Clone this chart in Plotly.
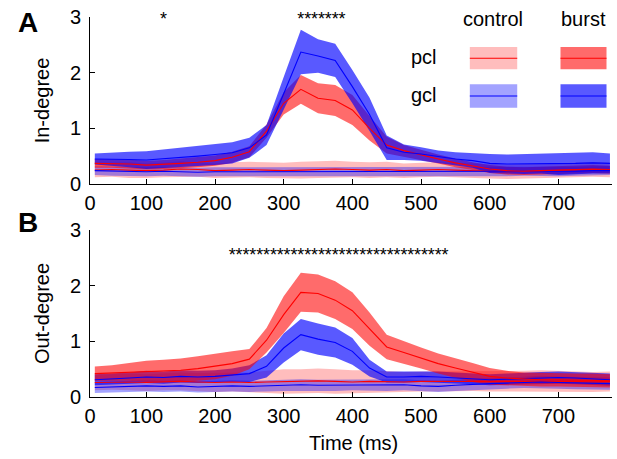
import plotly.graph_objects as go
from plotly.subplots import make_subplots

# ---------------- data ----------------
time_ms = [25, 50, 75, 100, 125, 150, 175, 200, 225, 250, 275, 300, 325, 350, 375, 400,
           425, 450, 475, 500, 525, 550, 575, 600, 625, 650, 675, 700, 725, 750, 775]

# Panel A: in-degree
in_pcl_burst = [0.37, 0.37, 0.36, 0.34, 0.35, 0.37, 0.39, 0.42, 0.48, 0.58, 0.95, 1.45, 1.70, 1.54, 1.50, 1.33,
                1.00, 0.70, 0.60, 0.52, 0.45, 0.38, 0.32, 0.27, 0.24, 0.23, 0.24, 0.25, 0.26, 0.27, 0.26]
in_pcl_burst_sem = [0.08, 0.08, 0.08, 0.08, 0.08, 0.09, 0.09, 0.09, 0.10, 0.10, 0.12, 0.20, 0.26, 0.27, 0.28, 0.27,
                    0.22, 0.15, 0.10, 0.09, 0.08, 0.08, 0.07, 0.07, 0.07, 0.07, 0.07, 0.07, 0.07, 0.07, 0.07]
in_gcl_burst = [0.45, 0.45, 0.44, 0.43, 0.45, 0.48, 0.50, 0.53, 0.56, 0.65, 0.88, 1.62, 2.37, 2.30, 2.22, 1.75,
                1.25, 0.65, 0.57, 0.54, 0.49, 0.45, 0.42, 0.37, 0.36, 0.36, 0.37, 0.36, 0.37, 0.38, 0.37]
in_gcl_burst_sem = [0.10, 0.12, 0.14, 0.16, 0.17, 0.18, 0.18, 0.19, 0.19, 0.18, 0.18, 0.30, 0.40, 0.30, 0.30, 0.30,
                    0.30, 0.22, 0.14, 0.12, 0.11, 0.12, 0.13, 0.17, 0.17, 0.18, 0.18, 0.20, 0.19, 0.19, 0.18]
in_pcl_ctrl = [0.25, 0.26, 0.25, 0.24, 0.25, 0.27, 0.26, 0.24, 0.25, 0.26, 0.25, 0.24, 0.25, 0.26, 0.27, 0.26,
               0.25, 0.26, 0.24, 0.25, 0.26, 0.25, 0.24, 0.23, 0.22, 0.23, 0.24, 0.24, 0.25, 0.26, 0.25]
in_pcl_ctrl_sem = [0.13, 0.13, 0.14, 0.13, 0.13, 0.14, 0.13, 0.13, 0.14, 0.14, 0.14, 0.14, 0.15, 0.15, 0.15, 0.14,
                   0.14, 0.14, 0.13, 0.13, 0.13, 0.13, 0.13, 0.13, 0.13, 0.13, 0.13, 0.13, 0.13, 0.13, 0.13]
in_gcl_ctrl = [0.24, 0.23, 0.22, 0.22, 0.23, 0.22, 0.21, 0.22, 0.22, 0.23, 0.22, 0.22, 0.23, 0.22, 0.22, 0.23,
               0.23, 0.22, 0.22, 0.23, 0.22, 0.22, 0.23, 0.22, 0.22, 0.23, 0.23, 0.22, 0.23, 0.24, 0.24]
in_gcl_ctrl_sem = [0.08, 0.08, 0.08, 0.08, 0.08, 0.08, 0.08, 0.08, 0.08, 0.08, 0.08, 0.08, 0.08, 0.08, 0.08, 0.08,
                   0.08, 0.08, 0.08, 0.08, 0.08, 0.08, 0.08, 0.08, 0.08, 0.08, 0.08, 0.08, 0.08, 0.08, 0.08]

# Panel B: out-degree
out_pcl_burst = [0.42, 0.43, 0.45, 0.46, 0.47, 0.48, 0.51, 0.55, 0.60, 0.68, 1.02, 1.48, 1.88, 1.86, 1.74, 1.55,
                 1.22, 0.90, 0.80, 0.70, 0.60, 0.52, 0.44, 0.37, 0.34, 0.32, 0.31, 0.31, 0.30, 0.30, 0.29]
out_pcl_burst_sem = [0.13, 0.14, 0.16, 0.19, 0.20, 0.21, 0.22, 0.23, 0.22, 0.18, 0.22, 0.33, 0.35, 0.34, 0.34, 0.33,
                     0.30, 0.22, 0.20, 0.19, 0.18, 0.18, 0.17, 0.15, 0.13, 0.12, 0.12, 0.12, 0.12, 0.12, 0.12]
out_gcl_burst = [0.31, 0.32, 0.34, 0.36, 0.35, 0.37, 0.36, 0.37, 0.39, 0.42, 0.55, 0.88, 1.12, 1.04, 0.98, 0.82,
                 0.52, 0.36, 0.36, 0.37, 0.36, 0.34, 0.33, 0.31, 0.32, 0.33, 0.34, 0.35, 0.34, 0.33, 0.31]
out_gcl_burst_sem = [0.10, 0.10, 0.10, 0.11, 0.11, 0.11, 0.11, 0.11, 0.12, 0.15, 0.20, 0.26, 0.28, 0.28, 0.27, 0.24,
                     0.15, 0.10, 0.10, 0.10, 0.10, 0.10, 0.10, 0.10, 0.10, 0.11, 0.11, 0.11, 0.11, 0.11, 0.11]
out_pcl_ctrl = [0.26, 0.27, 0.27, 0.26, 0.27, 0.28, 0.27, 0.26, 0.27, 0.26, 0.27, 0.28, 0.28, 0.29, 0.28, 0.27,
                0.28, 0.27, 0.27, 0.28, 0.28, 0.28, 0.29, 0.28, 0.28, 0.28, 0.29, 0.28, 0.28, 0.27, 0.28]
out_pcl_ctrl_sem = [0.14, 0.14, 0.15, 0.15, 0.15, 0.16, 0.16, 0.17, 0.17, 0.18, 0.20, 0.22, 0.22, 0.22, 0.22, 0.21,
                    0.20, 0.19, 0.18, 0.18, 0.18, 0.18, 0.18, 0.18, 0.18, 0.19, 0.19, 0.19, 0.19, 0.18, 0.18]
out_gcl_ctrl = [0.17, 0.18, 0.19, 0.20, 0.19, 0.20, 0.18, 0.19, 0.20, 0.19, 0.20, 0.21, 0.22, 0.21, 0.21, 0.22,
                0.22, 0.21, 0.22, 0.20, 0.19, 0.21, 0.23, 0.24, 0.25, 0.26, 0.27, 0.26, 0.25, 0.24, 0.24]
out_gcl_ctrl_sem = [0.10, 0.10, 0.10, 0.10, 0.10, 0.10, 0.10, 0.10, 0.10, 0.10, 0.10, 0.10, 0.10, 0.10, 0.10, 0.10,
                    0.10, 0.10, 0.10, 0.10, 0.10, 0.10, 0.10, 0.10, 0.10, 0.10, 0.11, 0.11, 0.11, 0.11, 0.11]

# significance markers (ms)
sig_in = [125, 325, 335, 345, 355, 365, 375, 385]
sig_out = list(range(225, 545, 10))

x_tickvals = [18, 100, 200, 300, 400, 500, 600, 700]
x_ticktext = ["0", "100", "200", "300", "400", "500", "600", "700"]

# ---------------- styles ----------------
FONT = "Liberation Sans, Arial, sans-serif"
RED_LINE = "#ff0000"
BLUE_LINE = "#0000ff"
FILL = {
    ("pcl", "ctrl"): "rgba(255,0,0,0.26)",
    ("gcl", "ctrl"): "rgba(0,0,255,0.36)",
    ("pcl", "burst"): "rgba(255,0,0,0.58)",
    ("gcl", "burst"): "rgba(0,0,255,0.65)",
}

fig = make_subplots(rows=2, cols=1, vertical_spacing=0.121)


def band(row, mean, sem, fill):
    up = [m + s for m, s in zip(mean, sem)]
    lo = [m - s for m, s in zip(mean, sem)]
    fig.add_trace(go.Scatter(x=time_ms + time_ms[::-1], y=up + lo[::-1], fill="toself",
                             fillcolor=fill, line=dict(width=0), mode="lines",
                             hoverinfo="skip", showlegend=False), row=row, col=1)


def line(row, mean, color):
    fig.add_trace(go.Scatter(x=time_ms, y=mean, mode="lines", line=dict(color=color, width=1.1),
                             showlegend=False), row=row, col=1)


panels = [
    (1, [(in_pcl_ctrl, in_pcl_ctrl_sem, "pcl", "ctrl"), (in_gcl_ctrl, in_gcl_ctrl_sem, "gcl", "ctrl"),
         (in_pcl_burst, in_pcl_burst_sem, "pcl", "burst"), (in_gcl_burst, in_gcl_burst_sem, "gcl", "burst")]),
    (2, [(out_pcl_ctrl, out_pcl_ctrl_sem, "pcl", "ctrl"), (out_gcl_ctrl, out_gcl_ctrl_sem, "gcl", "ctrl"),
         (out_gcl_burst, out_gcl_burst_sem, "gcl", "burst"), (out_pcl_burst, out_pcl_burst_sem, "pcl", "burst")]),
]
for row, series in panels:
    for mean, sem, layer, cond in series:
        band(row, mean, sem, FILL[(layer, cond)])
    for mean, sem, layer, cond in series:
        line(row, mean, RED_LINE if layer == "pcl" else BLUE_LINE)

# asterisks
fig.add_trace(go.Scatter(x=sig_in, y=[2.93] * len(sig_in), mode="text", text=["*"] * len(sig_in),
                         cliponaxis=False,
                         textfont=dict(size=18, color="black", family=FONT), showlegend=False), row=1, col=1)
fig.add_trace(go.Scatter(x=sig_out, y=[2.53] * len(sig_out), mode="text", text=["*"] * len(sig_out),
                         cliponaxis=False,
                         textfont=dict(size=18, color="black", family=FONT), showlegend=False), row=2, col=1)

# axes
for r in (1, 2):
    fig.update_xaxes(range=[18, 778], tickvals=x_tickvals, ticktext=x_ticktext, ticks="inside",
                     ticklen=5, tickcolor="black", showline=True, linecolor="black", linewidth=1,
                     showgrid=False, zeroline=False, ticklabelstandoff=1, automargin=False,
                     tickfont=dict(size=20, family=FONT, color="black"), row=r, col=1)
    fig.update_yaxes(range=[0, 3], tickvals=[0, 1, 2, 3], ticks="inside", ticklen=5, tickcolor="black",
                     showline=True, linecolor="black", linewidth=1, showgrid=False, zeroline=False,
                     ticklabelstandoff=4, automargin=False,
                     tickfont=dict(size=20, family=FONT, color="black"), row=r, col=1)
fig.update_yaxes(title=dict(text="In-degree", font=dict(size=20, family=FONT, color="black"), standoff=14),
                 row=1, col=1)
fig.update_yaxes(title=dict(text="Out-degree", font=dict(size=20, family=FONT, color="black"), standoff=14),
                 row=2, col=1)

# legend (drawn in panel A coordinates)
leg_cols = {"ctrl": (571, 640), "burst": (703, 770)}
leg_rows = {"pcl": (2.06, 2.46), "gcl": (1.37, 1.79)}
for cond, (x0, x1) in leg_cols.items():
    for layer, (y0, y1) in leg_rows.items():
        fig.add_shape(type="rect", x0=x0, x1=x1, y0=y0, y1=y1, xref="x", yref="y",
                      fillcolor=FILL[(layer, cond)], line=dict(width=0))
        fig.add_shape(type="line", x0=x0, x1=x1, y0=(y0 + y1) / 2, y1=(y0 + y1) / 2, xref="x", yref="y",
                      line=dict(color=RED_LINE if layer == "pcl" else BLUE_LINE, width=1.1))

annos = [
    dict(x=605, y=2.97, text="control"), dict(x=736, y=2.97, text="burst"),
    dict(x=505, y=2.28, text="pcl"), dict(x=505, y=1.60, text="gcl"),
]
for a in annos:
    fig.add_annotation(x=a["x"], y=a["y"], text=a["text"], xref="x", yref="y", showarrow=False,
                       xanchor="center", yanchor="middle",
                       font=dict(size=20, family=FONT, color="black"))

# paper-positioned texts given in pixels (converted below)
pix_texts = [
    dict(x=28, y=22, text="<b>A</b>", size=28),
    dict(x=28, y=222, text="<b>B</b>", size=28),
    dict(x=353, y=443, text="Time (ms)", size=20),
]
W, H, L, R, T, B = 617, 459, 90, 5, 17, 62
for p in pix_texts:
    fig.add_annotation(x=(p["x"] - L) / (W - L - R), y=1 - (p["y"] - T) / (H - T - B),
                       xref="paper", yref="paper", text=p["text"], showarrow=False,
                       xanchor="center", yanchor="middle",
                       font=dict(size=p["size"], family=FONT, color="black"))

fig.update_layout(width=W, height=H, margin=dict(l=L, r=R, t=T, b=B, autoexpand=False),
                  paper_bgcolor="white", plot_bgcolor="white", showlegend=False,
                  font=dict(family=FONT, color="black"))

fig.write_html("out.html", config={"displayModeBar": False},
               post_script="document.body.style.margin='0px';")
